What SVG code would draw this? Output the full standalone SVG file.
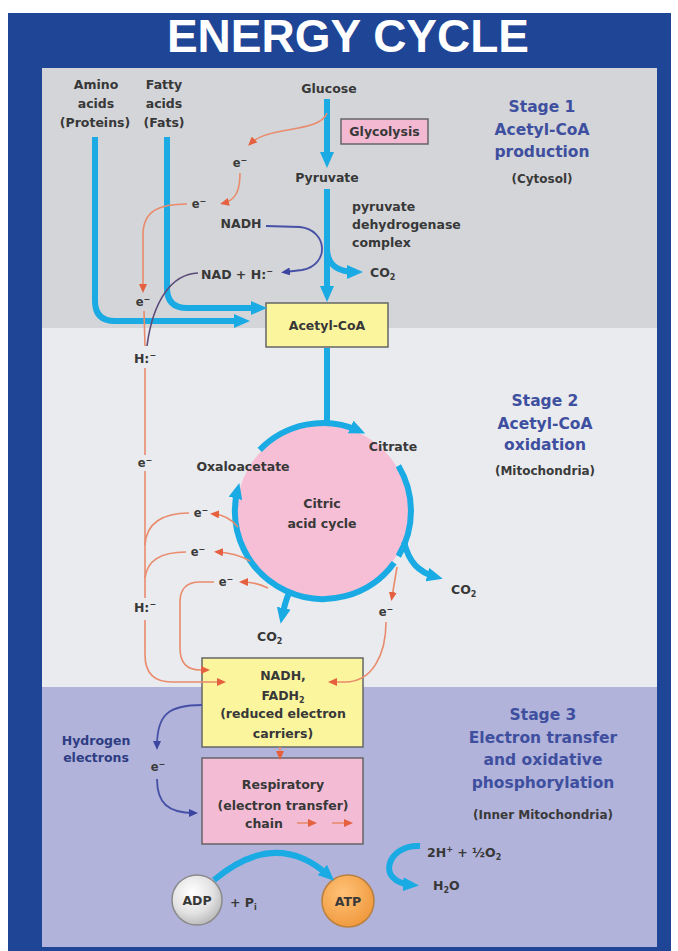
<svg xmlns="http://www.w3.org/2000/svg" width="678" height="951" viewBox="0 0 678 951">
<defs>
<style>
.t{font-family:"DejaVu Sans","Liberation Sans",sans-serif;font-weight:bold;font-size:12.5px;fill:#383838;text-anchor:middle}
.e{font-family:"DejaVu Sans","Liberation Sans",sans-serif;font-weight:bold;font-size:11.5px;fill:#3a3a3a;text-anchor:middle}
.s{font-family:"DejaVu Sans","Liberation Sans",sans-serif;font-weight:bold;font-size:15.5px;fill:#3f4f9f;text-anchor:middle}
.sl{font-family:"DejaVu Sans","Liberation Sans",sans-serif;font-weight:bold;font-size:12px;fill:#3a3a3a;text-anchor:middle}
.cy{fill:none;stroke:#1aabe4;stroke-width:6}
.cya{fill:none;stroke:#1aabe4;stroke-width:6;marker-end:url(#ac)}
.or{fill:none;stroke:#e98b6c;stroke-width:1.6}
.ora{fill:none;stroke:#e98b6c;stroke-width:1.6;marker-end:url(#ao)}
.db{fill:none;stroke:#4650a6;stroke-width:1.8;marker-end:url(#ad)}
.box{stroke:#666;stroke-width:1.5}
</style>
<marker id="ac" markerUnits="userSpaceOnUse" viewBox="0 0 16 14" markerWidth="16" markerHeight="14" refX="9" refY="7" orient="auto"><path d="M0,0 L16,7 L0,14 Z" fill="#1aabe4"/></marker>
<marker id="ao" markerUnits="userSpaceOnUse" viewBox="0 0 9 8" markerWidth="9" markerHeight="8" refX="5" refY="4" orient="auto"><path d="M0,0 L9,4 L0,8 Z" fill="#e5603e"/></marker>
<marker id="ad" markerUnits="userSpaceOnUse" viewBox="0 0 9 8" markerWidth="9" markerHeight="8" refX="5" refY="4" orient="auto"><path d="M0,0 L9,4 L0,8 Z" fill="#3c46a0"/></marker>
<radialGradient id="gadp" cx="0.4" cy="0.35" r="0.7"><stop offset="0" stop-color="#ffffff"/><stop offset="0.6" stop-color="#e2e2e2"/><stop offset="1" stop-color="#b5b5b5"/></radialGradient>
<radialGradient id="gatp" cx="0.4" cy="0.35" r="0.7"><stop offset="0" stop-color="#ffc277"/><stop offset="1" stop-color="#f0983c"/></radialGradient>
</defs>

<g id="background">
<rect x="0" y="0" width="678" height="951" fill="#ffffff"/>
<rect x="8" y="13" width="663" height="938" fill="#1f4596"/>
<rect x="42" y="68" width="615" height="260" fill="#d3d5d8"/>
<rect x="42" y="328" width="615" height="359" fill="#e9ebee"/>
<rect x="42" y="687" width="615" height="260" fill="#b1b3da"/>
</g>

<g id="title">
<text x="348" y="52" font-family="'Liberation Sans',Arial,sans-serif" font-weight="bold" font-size="46" fill="#ffffff" text-anchor="middle">ENERGY CYCLE</text>
</g>

<g id="stage1-label">
<text class="s" x="542" y="112">Stage 1</text>
<text class="s" x="542" y="135">Acetyl-CoA</text>
<text class="s" x="542" y="157">production</text>
<text class="sl" x="542" y="183">(Cytosol)</text>
</g>
<g id="stage2-label">
<text class="s" x="545" y="406">Stage 2</text>
<text class="s" x="545" y="429">Acetyl-CoA</text>
<text class="s" x="545" y="450">oxidation</text>
<text class="sl" x="545" y="475">(Mitochondria)</text>
</g>
<g id="stage3-label">
<text class="s" x="543" y="720">Stage 3</text>
<text class="s" x="543" y="743">Electron transfer</text>
<text class="s" x="543" y="765">and oxidative</text>
<text class="s" x="543" y="788">phosphorylation</text>
<text class="sl" x="543" y="819">(Inner Mitochondria)</text>
</g>

<g id="amino-acids">
<text class="t" x="96" y="89">Amino</text>
<text class="t" x="96" y="108">acids</text>
<text class="t" x="95" y="127">(Proteins)</text>
</g>
<g id="fatty-acids">
<text class="t" x="164" y="89">Fatty</text>
<text class="t" x="164" y="108">acids</text>
<text class="t" x="164" y="127">(Fats)</text>
</g>
<g id="glucose"><text class="t" x="329" y="93">Glucose</text></g>
<g id="glycolysis">
<rect class="box" x="341" y="119" width="87" height="25" fill="#f3b9d2"/>
<text class="t" x="384.5" y="136">Glycolysis</text>
</g>
<g id="pyruvate"><text class="t" x="327" y="182">Pyruvate</text></g>
<g id="pdh">
<text class="t" x="352" y="211" style="text-anchor:start">pyruvate</text>
<text class="t" x="352" y="229" style="text-anchor:start">dehydrogenase</text>
<text class="t" x="352" y="247" style="text-anchor:start">complex</text>
</g>
<g id="co2-1"><text class="t" x="370" y="277" style="text-anchor:start">CO<tspan font-size="8" dy="3">2</tspan></text></g>
<g id="nadh-1"><text class="t" x="241" y="228">NADH</text></g>
<g id="nad-h"><text class="t" x="201" y="279" style="text-anchor:start">NAD + H:<tspan font-size="8" dy="-5">−</tspan></text></g>
<g id="e-labels">
<text class="e" x="240" y="167">e<tspan font-size="8" dy="-4">−</tspan></text>
<text class="e" x="199" y="208">e<tspan font-size="8" dy="-4">−</tspan></text>
<text class="e" x="143" y="306">e<tspan font-size="8" dy="-4">−</tspan></text>
<text class="e" x="145" y="467">e<tspan font-size="8" dy="-4">−</tspan></text>
<text class="e" x="201" y="517">e<tspan font-size="8" dy="-4">−</tspan></text>
<text class="e" x="198" y="556">e<tspan font-size="8" dy="-4">−</tspan></text>
<text class="e" x="226" y="586">e<tspan font-size="8" dy="-4">−</tspan></text>
<text class="e" x="386" y="616">e<tspan font-size="8" dy="-4">−</tspan></text>
<text class="e" x="158" y="771">e<tspan font-size="8" dy="-4">−</tspan></text>
</g>
<g id="h-1"><text class="t" x="145" y="363">H:<tspan font-size="8" dy="-5">−</tspan></text></g>
<g id="h-2"><text class="t" x="145" y="612">H:<tspan font-size="8" dy="-5">−</tspan></text></g>

<g id="acetyl-coa">
<rect class="box" x="266" y="303" width="122" height="44" fill="#fbf59e"/>
<text class="t" x="327" y="330">Acetyl-CoA</text>
</g>

<g id="citric-acid-cycle">
<circle cx="323" cy="511" r="86" fill="#f6bfd6"/>
<text class="t" x="322" y="508">Citric</text>
<text class="t" x="322" y="528">acid cycle</text>
</g>
<g id="citrate"><text class="t" x="393" y="451">Citrate</text></g>
<g id="oxaloacetate"><text class="t" x="243" y="471">Oxaloacetate</text></g>
<g id="co2-2"><text class="t" x="451" y="594" style="text-anchor:start">CO<tspan font-size="8" dy="3">2</tspan></text></g>
<g id="co2-3"><text class="t" x="257" y="641" style="text-anchor:start">CO<tspan font-size="8" dy="3">2</tspan></text></g>

<g id="nadh-fadh2">
<rect class="box" x="202" y="658" width="161" height="89" fill="#fbf59e"/>
<text class="t" x="283" y="680">NADH,</text>
<text class="t" x="283" y="700">FADH<tspan font-size="8" dy="3">2</tspan></text>
<text class="t" x="283" y="718">(reduced electron</text>
<text class="t" x="283" y="738">carriers)</text>
</g>
<g id="hydrogen-electrons">
<text class="t" x="96" y="745" style="fill:#2e3c82">Hydrogen</text>
<text class="t" x="96" y="762" style="fill:#2e3c82">electrons</text>
</g>
<g id="respiratory-chain">
<rect class="box" x="202" y="758" width="161" height="86" fill="#f4bcd4"/>
<text class="t" x="283" y="789">Respiratory</text>
<text class="t" x="283" y="810">(electron transfer)</text>
<text class="t" x="264" y="828">chain</text>
</g>

<g id="adp">
<circle cx="197" cy="900" r="25" fill="url(#gadp)" stroke="#8a8a8a" stroke-width="1.5"/>
<text class="t" x="197" y="905">ADP</text>
</g>
<g id="pi"><text class="t" x="230" y="907" style="text-anchor:start">+ P<tspan font-size="8" dy="3">i</tspan></text></g>
<g id="atp">
<circle cx="348" cy="901" r="26" fill="url(#gatp)" stroke="#b9803e" stroke-width="1.5"/>
<text class="t" x="348" y="906">ATP</text>
</g>
<g id="o2"><text class="t" x="427" y="857" style="text-anchor:start">2H<tspan font-size="8" dy="-5">+</tspan><tspan dy="5"> + ½O</tspan><tspan font-size="8" dy="3">2</tspan></text></g>
<g id="h2o"><text class="t" x="433" y="890" style="text-anchor:start">H<tspan font-size="8" dy="3">2</tspan><tspan dy="-3">O</tspan></text></g>

<g id="connectors">
<path class="cya" d="M327,99 L327,161"/>
<path class="cya" d="M327,189 L327,295"/>
<path class="cya" d="M327,250 C328,264 336,272 356,272"/>
<path class="cya" d="M167,137 L167,288 Q167,308 187,308 L260,308"/>
<path class="cya" d="M95,137 L95,301 Q95,321 115,321 L243,321"/>
<path class="cy" d="M327,348 L327,425"/>
<path class="cya" d="M259.7,449.9 A88,88 0 0 1 358.8,430.6"/>
<path class="cy" d="M398.4,465.7 A88,88 0 0 1 398.4,556.3"/>
<path class="cya" d="M404,542 C409,562 418,572 436,577"/>
<path class="cya" d="M394.2,562.7 A88,88 0 0 1 237.6,489.7"/>
<path class="cya" d="M289,593 Q285,602 282,617"/>
<path class="cya" d="M214,880 Q276,828 329,876"/>
<path class="cya" d="M420,846 C388,844 374,882 412,885"/>

<path class="ora" d="M327,113 C320,133 268,126 251,143"/>
<path class="ora" d="M240,173 C240,190 236,200 224,203"/>
<path class="ora" d="M187,204 C160,204 143,210 143,235 L143,289"/>
<path class="or" d="M144,311 L145,346"/>
<path fill="none" stroke="#5a4a78" stroke-width="1.6" d="M198,273 C172,274 153,300 147,346"/>
<path class="db" d="M266,226 L300,227 C328,230 330,265 302,270 L285,272"/>

<path class="or" d="M145,368 L145,455"/>
<path class="or" d="M145,471 L145,598"/>
<path class="ora" d="M145,620 L145,655 Q145,682 172,682 L222,682"/>
<path class="or" d="M189,513 C163,513 146,523 145,545"/>
<path class="or" d="M186,552 C162,552 147,560 145,578"/>
<path class="ora" d="M214,582 L200,582 Q180,582 180,602 L180,648 Q180,670 200,670 L206,670"/>
<path class="ora" d="M238,527 Q228,515 214,514"/>
<path class="ora" d="M250,561 Q236,553 218,552"/>
<path class="ora" d="M268,588 Q256,582 243,582"/>
<path class="ora" d="M397,567 L392,597"/>
<path class="ora" d="M386,622 C386,655 372,682 345,682 L332,682"/>

<path class="db" d="M202,705 C168,705 157,715 157,746"/>
<path class="db" d="M157,779 C157,803 168,813 194,813"/>
<path class="ora" d="M280,747 L280,756"/>
<path class="ora" d="M297,823 L313,823"/>
<path class="ora" d="M332,823 L349,823"/>
</g>
</svg>
